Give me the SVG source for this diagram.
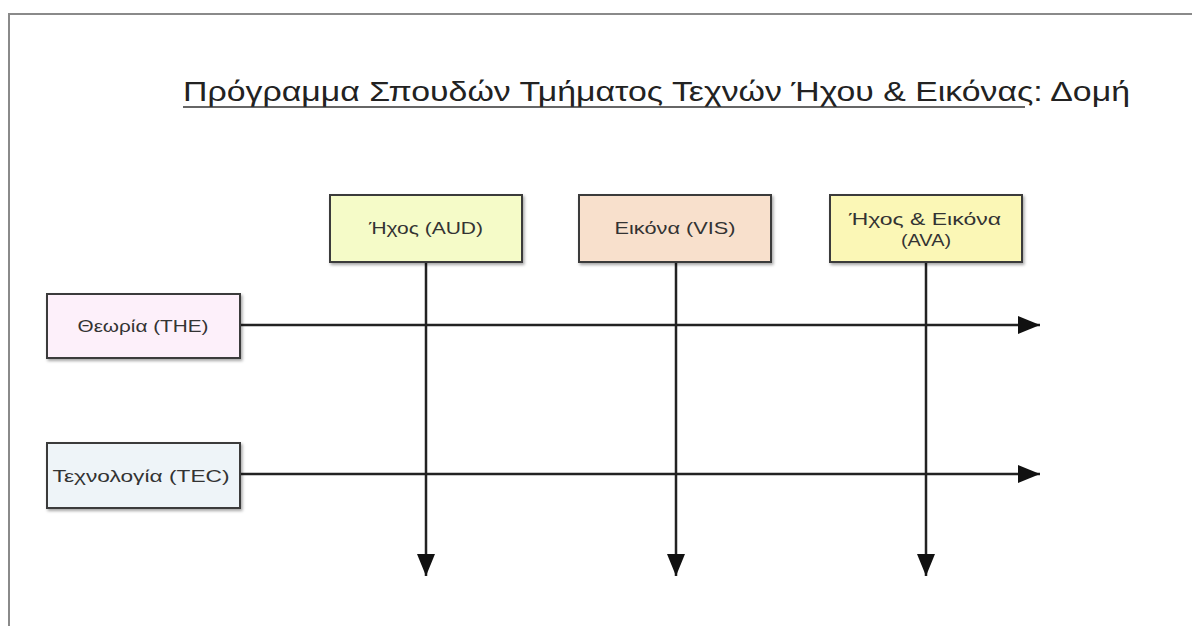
<svg xmlns="http://www.w3.org/2000/svg" width="1192" height="626" viewBox="0 0 1192 626">
<defs>
<style>
.box{stroke:#3a3a3a;stroke-width:2}
.lbl{font-family:"Liberation Sans","DejaVu Sans",sans-serif;font-size:17px;fill:#333;text-anchor:middle}
.ttl{font-family:"Liberation Sans","DejaVu Sans",sans-serif;font-size:27px;fill:#222}
.conn{stroke:#222;stroke-width:2.5;fill:none}
</style>
<marker id="ahb" markerWidth="22" markerHeight="22" refX="22" refY="11" orient="auto" markerUnits="userSpaceOnUse" viewBox="0 0 22 22">
<path d="M0,2 L22,11 L0,20 z" fill="#111"/>
</marker>
<filter id="sh" x="-10%" y="-10%" width="125%" height="130%">
<feDropShadow dx="1.5" dy="2" stdDeviation="1.5" flood-color="#000" flood-opacity="0.35"/>
</filter>
</defs>
<rect width="1192" height="626" fill="#fff"/>
<path d="M9,626 V14 H1192" fill="none" stroke="#8a8a8a" stroke-width="2"/>
<g id="title">
<text class="ttl" x="183" y="101" textLength="947" lengthAdjust="spacingAndGlyphs">Πρόγραμμα Σπουδών Τμήματος Τεχνών Ήχου &amp; Εικόνας: Δομή</text>
<line x1="183" y1="107" x2="1025" y2="107" stroke="#333" stroke-width="1.5"/>
</g>
<g id="connectors">
<line class="conn" x1="240" y1="325" x2="1040" y2="325" marker-end="url(#ahb)"/>
<line class="conn" x1="240" y1="474" x2="1040" y2="474" marker-end="url(#ahb)"/>
<line class="conn" x1="426" y1="262" x2="426" y2="576" marker-end="url(#ahb)"/>
<line class="conn" x1="676" y1="262" x2="676" y2="576" marker-end="url(#ahb)"/>
<line class="conn" x1="926" y1="262" x2="926" y2="576" marker-end="url(#ahb)"/>
</g>
<g id="aud">
<rect class="box" x="330" y="195" width="192" height="67" fill="#f5fbc8" filter="url(#sh)"/>
<text class="lbl" x="426" y="234" textLength="114" lengthAdjust="spacingAndGlyphs">Ήχος (AUD)</text>
</g>
<g id="vis">
<rect class="box" x="579" y="195" width="192" height="67" fill="#f8e0cc" filter="url(#sh)"/>
<text class="lbl" x="675" y="234" textLength="121" lengthAdjust="spacingAndGlyphs">Εικόνα (VIS)</text>
</g>
<g id="ava">
<rect class="box" x="830" y="195" width="192" height="67" fill="#fbf7b6" filter="url(#sh)"/>
<text class="lbl" x="925" y="225" textLength="152" lengthAdjust="spacingAndGlyphs">Ήχος &amp; Εικόνα</text>
<text class="lbl" x="926" y="246" textLength="50" lengthAdjust="spacingAndGlyphs">(AVA)</text>
</g>
<g id="the">
<rect class="box" x="47" y="294" width="193" height="64" fill="#fdf0fa" filter="url(#sh)"/>
<text class="lbl" x="143" y="332" textLength="131" lengthAdjust="spacingAndGlyphs">Θεωρία (THE)</text>
</g>
<g id="tec">
<rect class="box" x="47" y="443" width="193" height="65" fill="#eef4f8" filter="url(#sh)"/>
<text class="lbl" x="141" y="482" textLength="177" lengthAdjust="spacingAndGlyphs">Τεχνολογία (TEC)</text>
</g>
</svg>
